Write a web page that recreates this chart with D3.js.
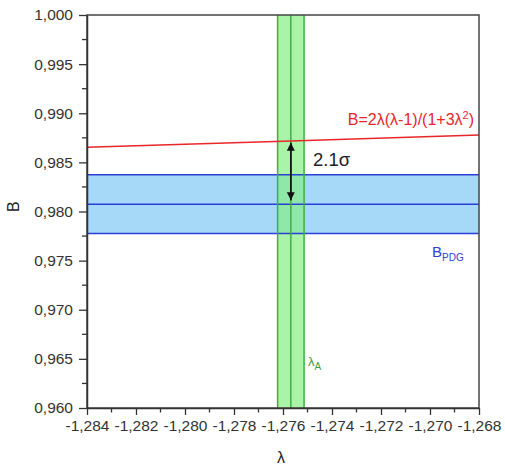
<!DOCTYPE html>
<html><head><meta charset="utf-8">
<script src="https://cdn.jsdelivr.net/npm/d3@7"></script>
<style>body{margin:0;background:#fff;} text{font-family:"Liberation Sans",Arial,sans-serif;}</style>
</head><body><svg id="c" width="505" height="466"></svg>
<script>
// data
const xTicks = [-1.284,-1.282,-1.280,-1.278,-1.276,-1.274,-1.272,-1.270,-1.268];
const yTicks = [0.960,0.965,0.970,0.975,0.980,0.985,0.990,0.995,1.000];
const redLine = [[-1.284,0.98655],[-1.276,0.98715],[-1.268,0.98778]];
const lambdaA = {center:-1.27568, err:0.00054};
const bPDG = {center:0.98075, err:0.00298};
const arrowPts = [0.98700, 0.98115];

const svg = d3.select("#c");
const m = {l:87,r:479,t:15,b:408};
const x = d3.scaleLinear().domain([-1.284,-1.268]).range([m.l,m.r]);
const y = d3.scaleLinear().domain([0.960,1.000]).range([m.b,m.t]);
const fmtX = d => d3.format(".3f")(d).replace("−","-").replace(".",",");
const fmtY = d => d3.format(".3f")(d).replace(".",",");

// blue band
svg.append("rect").attr("x",x(-1.284)).attr("width",x(-1.268)-x(-1.284))
  .attr("y",y(bPDG.center+bPDG.err)).attr("height",y(bPDG.center-bPDG.err)-y(bPDG.center+bPDG.err))
  .attr("fill","#a6d8f7");
// green band
svg.append("rect").attr("x",x(lambdaA.center-lambdaA.err)).attr("width",x(lambdaA.center+lambdaA.err)-x(lambdaA.center-lambdaA.err))
  .attr("y",m.t).attr("height",m.b-m.t).attr("fill","#86f086").attr("opacity",0.7);
// blue lines
[bPDG.center-bPDG.err,bPDG.center,bPDG.center+bPDG.err].forEach(v=>{
  svg.append("line").attr("x1",m.l).attr("x2",m.r).attr("y1",y(v)).attr("y2",y(v))
    .attr("stroke","#2b3fd6").attr("stroke-width",1.5);
});
// green lines
[lambdaA.center-lambdaA.err,lambdaA.center,lambdaA.center+lambdaA.err].forEach(v=>{
  svg.append("line").attr("x1",x(v)).attr("x2",x(v)).attr("y1",m.t).attr("y2",m.b)
    .attr("stroke","#3cb043").attr("stroke-width",1.5);
});
// red line
svg.append("path").datum(redLine).attr("fill","none").attr("stroke","#e8262a").attr("stroke-width",1.5)
  .attr("d",d3.line().x(d=>x(d[0])).y(d=>y(d[1])));

// arrow
const defs = svg.append("defs");
defs.append("marker").attr("id","ah").attr("viewBox","0 0 10 10").attr("refX",10).attr("refY",5)
  .attr("markerWidth",8).attr("markerHeight",10).attr("markerUnits","userSpaceOnUse").attr("orient","auto")
  .append("path").attr("d","M0,0L10,5L0,10z").attr("fill","#111");
const ax = x(lambdaA.center);
svg.append("line").attr("x1",ax).attr("x2",ax).attr("y1",y(arrowPts[1])).attr("y2",y(arrowPts[0]))
  .attr("stroke","#111").attr("stroke-width",1.3).attr("marker-end","url(#ah)");
svg.append("line").attr("x1",ax).attr("x2",ax).attr("y1",y(arrowPts[0])).attr("y2",y(arrowPts[1]))
  .attr("stroke","#111").attr("stroke-width",1.3).attr("marker-end","url(#ah)");

// frame
svg.append("rect").attr("x",m.l).attr("y",m.t).attr("width",m.r-m.l).attr("height",m.b-m.t)
  .attr("fill","none").attr("stroke","#444").attr("stroke-width",1.5);

// axes
const xAx = svg.append("g").attr("transform",`translate(0,${m.b})`)
  .call(d3.axisBottom(x).tickValues(xTicks).tickFormat(fmtX).tickSize(7).tickSizeOuter(0));
const yAx = svg.append("g").attr("transform",`translate(${m.l},0)`)
  .call(d3.axisLeft(y).tickValues(yTicks).tickFormat(fmtY).tickSize(8).tickSizeOuter(0));
[xAx,yAx].forEach(g=>{
  g.select(".domain").attr("stroke","#333").attr("stroke-width",1.5);
  g.selectAll(".tick line").attr("stroke","#333").attr("stroke-width",1.3);
  g.selectAll(".tick text").attr("fill","#333").style("font-size","15.5px").style("font-family","Liberation Sans, Arial, sans-serif");
});
yAx.selectAll(".tick text").attr("x",-14);
xAx.selectAll(".tick text").attr("y",12);
// minor ticks
const xMinor = d3.range(0,8).map(i=>xTicks[i]+0.001);
const yMinor = d3.range(0,8).map(i=>yTicks[i]+0.0025);
xMinor.forEach(v=>svg.append("line").attr("x1",x(v)).attr("x2",x(v)).attr("y1",m.b).attr("y2",m.b+4.5).attr("stroke","#333").attr("stroke-width",1.3));
yMinor.forEach(v=>svg.append("line").attr("y1",y(v)).attr("y2",y(v)).attr("x1",m.l).attr("x2",m.l-5).attr("stroke","#333").attr("stroke-width",1.3));

// axis titles
svg.append("text").attr("transform",`translate(15,${y(0.9805)}) rotate(-90)`).attr("text-anchor","middle")
  .attr("dominant-baseline","middle").style("font-size","16px").attr("fill","#222").text("B");
svg.append("text").attr("x",281).attr("y",463).attr("text-anchor","middle").style("font-size","16px").attr("fill","#222").text("λ");

// annotations
const rt = svg.append("text").attr("x",474).attr("y",125).attr("text-anchor","end").style("font-size","16px").attr("fill","#e8262a");
rt.append("tspan").text("B=2λ(λ-1)/(1+3λ");
rt.append("tspan").attr("dy",-6).style("font-size","11px").text("2");
rt.append("tspan").attr("dy",6).text(")");
svg.append("text").attr("x",313).attr("y",166).style("font-size","18.5px").attr("fill","#222").text("2.1σ");
const bt = svg.append("text").attr("x",432).attr("y",257).style("font-size","15px").attr("fill","#3040d0");
bt.append("tspan").text("B");
bt.append("tspan").attr("dy",4).style("font-size","10px").text("PDG");
const lt = svg.append("text").attr("x",308).attr("y",366).style("font-size","13px").attr("fill","#3ca040");
lt.append("tspan").text("λ");
lt.append("tspan").attr("dy",4).style("font-size","10px").text("A");
</script></body></html>
